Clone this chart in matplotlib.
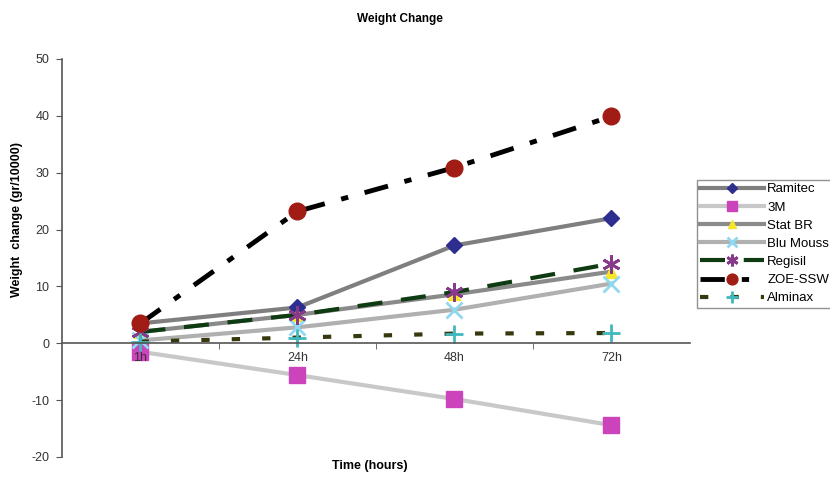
import matplotlib.pyplot as plt

# -------------------------
# Data
# -------------------------
times = ["1h", "24h", "48h", "72h"]

ramitec = [3.5, 6.3, 17.2, 22.0]
m3 = [-1.5, -5.6, -9.8, -14.4]
stat_br = [2.0, 5.0, 8.6, 12.6]
blu_mouss = [0.5, 2.8, 5.9, 10.5]
regisil = [2.0, 5.0, 9.0, 14.0]
zoe_ssw = [3.5, 23.2, 30.9, 39.9]
alminax = [0.3, 1.0, 1.7, 1.8]

y_ticks = [-20, -10, 0, 10, 20, 30, 40, 50]

plt.rcParams["font.family"] = ["Liberation Sans", "DejaVu Sans"]
plt.rcParams["axes.unicode_minus"] = False

fig = plt.figure(figsize=(8.3, 4.86), dpi=100)
ax = fig.add_axes([0.0747, 0.0597, 0.7566, 0.819])

x = list(range(len(times)))

ax.plot(x, ramitec, color="#7f7f7f", lw=3, marker="D", ms=8,
        mfc="#2e2e8f", mec="#2e2e8f", label="Ramitec")
ax.plot(x, m3, color="#c8c8c8", lw=3, marker="s", ms=11,
        mfc="#cc44bb", mec="#cc44bb", label="3M")
ax.plot(x, stat_br, color="#8a8a8a", lw=3, marker="^", ms=9,
        mfc="#f5e62a", mec="#f5e62a", label="Stat BR")
ax.plot(x, blu_mouss, color="#b0b0b0", lw=3, marker="x", ms=11, mew=2,
        mfc="#8fd8f0", mec="#8fd8f0", label="Blu Mouss")
ax.plot(x, regisil, color="#0e3b12", lw=3, dashes=(6, 4.5), marker=(6, 2, 0),
        ms=13, mew=2, mec="#883a8a", label="Regisil")
ax.plot(x, zoe_ssw, color="black", lw=3.5, dashes=(5, 3.5, 1.5, 3.5), marker="o",
        ms=12, mfc="#a01c14", mec="#a01c14", label="ZOE-SSW")
ax.plot(x, alminax, color="#38380f", lw=3, dashes=(2, 5.3), marker="+", ms=13,
        mew=2, mec="#40b8c0", label="Alminax")

ax.set_xlim(-0.5, 3.5)
ax.set_ylim(-20, 50)
ax.set_yticks(y_ticks)
ax.set_xticks(x)
ax.set_xticklabels(times)
ax.set_xticks([0.5, 1.5, 2.5], minor=True)

ax.spines["top"].set_visible(False)
ax.spines["right"].set_visible(False)
ax.spines["bottom"].set_position(("data", 0))
ax.spines["left"].set_color("#555555")
ax.spines["bottom"].set_color("#555555")
ax.spines["left"].set_linewidth(1.2)
ax.spines["bottom"].set_linewidth(1.2)
ax.xaxis.set_zorder(5)

ax.tick_params(axis="y", direction="out", length=4, color="#555555",
               labelsize=9, pad=5)
ax.tick_params(axis="x", which="major", length=0, labelsize=9, pad=6)
ax.tick_params(axis="x", which="minor", direction="out", length=4, color="#555555")
for lbl in ax.get_xticklabels() + ax.get_yticklabels():
    lbl.set_color("#333333")

fig.text(0.021, 0.548, "Weight  change (gr/10000)", rotation=90, ha="center",
         va="center", fontsize=9, fontweight="bold")
fig.text(0.445, 0.035, "Time (hours)", ha="center", fontsize=9, fontweight="bold")
fig.text(0.482, 0.955, "Weight Change", ha="center", fontsize=8.5, fontweight="bold")

fig.legend(loc="upper left", bbox_to_anchor=(0.84, 0.63), fontsize=9.5,
           frameon=True, fancybox=False, edgecolor="#777777",
           handlelength=4.8, borderpad=0.25, labelspacing=0.45,
           handletextpad=0.25, borderaxespad=0, markerscale=0.65)

fig.savefig("out.png", dpi=100)
